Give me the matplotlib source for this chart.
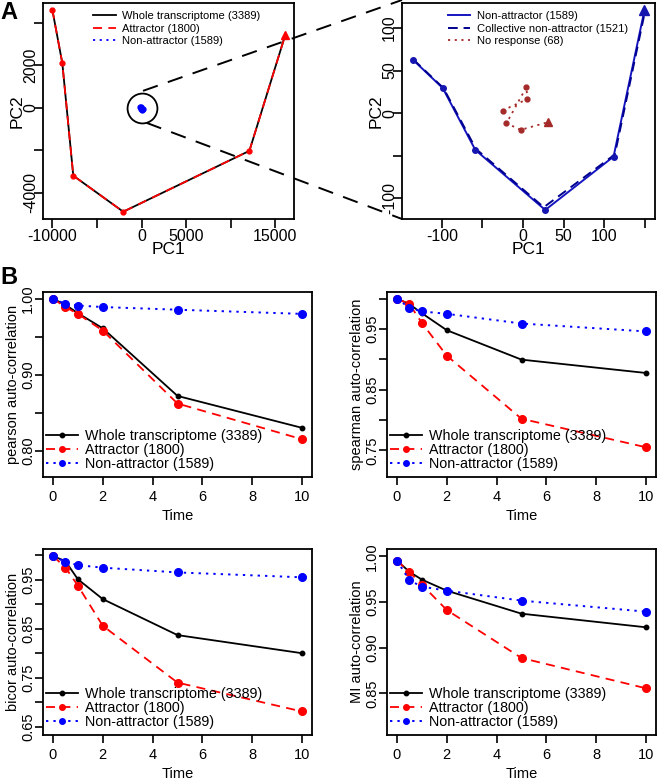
import numpy as np
import matplotlib
matplotlib.use("Agg")
import matplotlib.pyplot as plt
from matplotlib.lines import Line2D

plt.rcParams['font.family'] = ['Liberation Sans', 'DejaVu Sans']
plt.rcParams['axes.unicode_minus'] = False

# ---------------- Panel A data ----------------
whole_pc1 = [-10000, -8880, -7650, -2050, 12090, 16120]
whole_pc2 = [4630, 2110, -3200, -4900, -2030, 3450]
attr_pc1 = [-10000, -8880, -7650, -2050, 12090, 16120]
attr_pc2 = [4630, 2110, -3200, -4900, -2030, 3450]

nonattr_pc1 = [-135.5, -98.8, -58.8, 27.3, 111.4, 149.4]
nonattr_pc2 = [62.7, 29.4, -43.1, -113.7, -51.0, 120.8]
collective_pc1 = [-135.0, -98.0, -58.0, 25.5, 113.0, 150.5]
collective_pc2 = [63.0, 29.5, -42.0, -110.5, -48.5, 121.5]
noresp_pc1 = [-25.3, 5.3, 4.1, -20.4, -2.9, 30.6]
noresp_pc2 = [3.1, 16.5, 30.6, -11.8, -19.6, -10.6]

# ---------------- Panel B data ----------------
time = [0, 0.5, 1, 2, 5, 10]
pearson_whole = [1.000, 0.992, 0.981, 0.961, 0.872, 0.830]
pearson_attr = [1.000, 0.989, 0.980, 0.958, 0.862, 0.815]
pearson_non = [1.000, 0.993, 0.991, 0.989, 0.9855, 0.980]

spearman_whole = [1.000, 0.991, 0.976, 0.948, 0.8995, 0.8775]
spearman_attr = [1.000, 0.991, 0.960, 0.906, 0.802, 0.755]
spearman_non = [1.000, 0.985, 0.979, 0.975, 0.959, 0.946]

bicor_whole = [0.9985, 0.988, 0.951, 0.9105, 0.837, 0.800]
bicor_attr = [0.9985, 0.975, 0.938, 0.856, 0.740, 0.681]
bicor_non = [0.999, 0.986, 0.980, 0.9746, 0.965, 0.955]

mi_whole = [0.9953, 0.983, 0.9745, 0.9624, 0.9372, 0.9223]
mi_attr = [0.9953, 0.9828, 0.969, 0.9412, 0.8887, 0.8555]
mi_non = [0.9953, 0.9737, 0.9668, 0.9624, 0.9515, 0.9394]

leg_labels = ["Whole transcriptome (3389)", "Attractor (1800)", "Non-attractor (1589)"]
top_left_labels = ["Whole transcriptome (3389)", "Attractor (1800)", "Non-attractor (1589)"]
top_right_labels = ["Non-attractor (1589)", "Collective non-attractor (1521)", "No response (68)"]

RED = '#FF0000'
BLUE = '#0000FF'
BROWN = '#A52A2A'
W, H = 657, 782
fig = plt.figure(figsize=(W / 100, H / 100), dpi=100)


def rect(x0, y0, x1, y1):
    return [x0 / W, 1 - y1 / H, (x1 - x0) / W, (y1 - y0) / H]


def style(ax, xt, xl, yt, yl, fs, xpad, ypad, tl):
    for s in ax.spines.values():
        s.set_linewidth(1.3)
    ax.set_xticks(xt)
    ax.set_xticklabels(xl, fontsize=fs)
    ax.set_yticks(yt)
    ax.set_yticklabels(yl, fontsize=fs, rotation=90, va='center')
    ax.tick_params(axis='x', length=tl, width=1.2, pad=xpad)
    ax.tick_params(axis='y', length=tl, width=1.2, pad=ypad)


# ---------------- A left ----------------
ax1 = fig.add_axes(rect(43, 3, 294, 219))
ax1.plot(whole_pc1, whole_pc2, color='black', lw=1.3, label=top_left_labels[0])
ax1.plot(attr_pc1[:-1], attr_pc2[:-1], 'o', color=RED, ms=3.5)
ax1.plot(attr_pc1[-1:], attr_pc2[-1:], '^', color=RED, ms=6)
ax1.plot(attr_pc1, attr_pc2, color=RED, lw=1.3, dashes=(5, 3.5), label=top_left_labels[1])
ax1.plot(nonattr_pc1, nonattr_pc2, color=BLUE, lw=1.3, dashes=(1.2, 2.5), label=top_left_labels[2])
ax1.plot(nonattr_pc1[:-1], nonattr_pc2[:-1], 'o', color=BLUE, ms=3.5)
ax1.plot([0], [0], 'o', ms=21.5, mfc='none', mec='black', mew=1.3)
ax1.set_xlim(-11045, 17090)
ax1.set_ylim(-5244, 4945)
style(ax1, [-10000, -5000, 0, 5000, 10000, 15000], ['-10000', '', '0', '5000', '', '15000'],
      [-4000, -2000, 0, 2000, 4000], ['-4000', '', '0', '2000', ''], 11.5, 0.5, -3, 6.5)
ax1.set_xlabel('PC1', fontsize=12.5, labelpad=-1)
ax1.set_ylabel('PC2', fontsize=12.5, labelpad=-1)
h = [Line2D([], [], color='black', lw=1.3),
     Line2D([], [], color=RED, lw=1.3, dashes=(5, 3.5)),
     Line2D([], [], color=BLUE, lw=1.3, dashes=(1.2, 2.5))]
ax1.legend(h, top_left_labels, loc='upper left', bbox_to_anchor=(0.17, 1.0), frameon=False,
           fontsize=8, handlelength=2.0, handletextpad=0.6, labelspacing=0.25, borderpad=0.2)

# ---------------- A right ----------------
ax2 = fig.add_axes(rect(402, 3, 655, 219))
ax2.plot(nonattr_pc1, nonattr_pc2, color='#1515C0', lw=1.4)
ax2.plot(collective_pc1, collective_pc2, color='#000090', lw=1.4, dashes=(5, 3))
ax2.plot(nonattr_pc1[:-1], nonattr_pc2[:-1], 'o', color='#1515B0', ms=4)
ax2.plot(nonattr_pc1[-1:], nonattr_pc2[-1:], '^', color='#1515B0', ms=6.5)
ax2.plot(noresp_pc1, noresp_pc2, color=BROWN, lw=1.3, dashes=(1.2, 2.5))
ax2.plot(noresp_pc1[:-1], noresp_pc2[:-1], 'o', color=BROWN, ms=3.5)
ax2.plot(noresp_pc1[-1:], noresp_pc2[-1:], '^', color=BROWN, ms=6)
ax2.set_xlim(-149, 162.4)
ax2.set_ylim(-124.3, 129.4)
style(ax2, [-100, -50, 0, 50, 100, 150], ['-100', '', '0', '50', '100', ''],
      [-100, -50, 0, 50, 100], ['-100', '', '0', '50', '100'], 11.5, 0.5, -3, 6.5)
ax2.set_xlabel('PC1', fontsize=12.5, labelpad=-1)
ax2.set_ylabel('PC2', fontsize=12.5, labelpad=-1)
h2 = [Line2D([], [], color='#1515C0', lw=1.4),
      Line2D([], [], color='#000090', lw=1.4, dashes=(5, 3)),
      Line2D([], [], color=BROWN, lw=1.3, dashes=(1.2, 2.5))]
ax2.legend(h2, top_right_labels, loc='upper left', bbox_to_anchor=(0.15, 1.0), frameon=False,
           fontsize=8, handlelength=2.0, handletextpad=0.6, labelspacing=0.25, borderpad=0.2)

# connector lines (figure pixel coordinates)
fig.canvas.draw()
c = ax1.transData.transform((0, 0))
inv = fig.transFigure.inverted()
p_top = inv.transform((c[0] + 1.5, c[1] + 17))
p_bot = inv.transform((c[0] + 5, c[1] - 15))
corner_top = ax2.transAxes.transform((0, 1))
corner_bot = ax2.transAxes.transform((0, 0))
q_top = inv.transform((corner_top[0], corner_top[1] + 3))
q_bot = inv.transform(corner_bot)
for p, q in [(p_top, q_top), (p_bot, q_bot)]:
    fig.add_artist(Line2D([p[0], q[0]], [p[1], q[1]], transform=fig.transFigure,
                          color='black', lw=1.4, dashes=(8, 5.5)))

# ---------------- B panels ----------------
def bpanel(r, whole, attr, non, ylim, yt, yl, ylabel, legpos):
    ax = fig.add_axes(rect(*r))
    ax.plot(time, whole, color='black', lw=1.3, marker='o', ms=3.2)
    ax.plot(time, attr, color=RED, lw=1.3, dashes=(5, 3.5), marker='o', ms=5.5)
    ax.plot(time, non, color=BLUE, lw=1.4, dashes=(1.2, 2.6), marker='o', ms=5.5)
    ax.set_xlim(-0.4, 10.4)
    ax.set_ylim(*ylim)
    style(ax, [0, 2, 4, 6, 8, 10], ['0', '2', '4', '6', '8', '10'], yt, yl, 10.5, 4, 0, 5.5)
    ax.set_xlabel('Time', fontsize=10.5, labelpad=3.5)
    ax.set_ylabel(ylabel, fontsize=10.5, labelpad=1)
    hh = [Line2D([], [], color='black', lw=1.3, marker='o', ms=3.2),
          Line2D([], [], color=RED, lw=1.3, dashes=(5, 3.5), marker='o', ms=4),
          Line2D([], [], color=BLUE, lw=1.4, dashes=(1.2, 2.6), marker='o', ms=4)]
    ax.legend(hh, leg_labels, loc='lower left', bbox_to_anchor=legpos, frameon=False,
              fontsize=10.3, handlelength=2.2, handletextpad=0.5, labelspacing=0.0,
              borderpad=0.0, borderaxespad=0.0)
    return ax


bpanel((43, 292, 312, 477), pearson_whole, pearson_attr, pearson_non, (0.7653, 1.0088),
       [0.80, 0.85, 0.90, 0.95, 1.00], ['0.80', '', '0.90', '', '1.00'],
       'pearson auto-correlation', (0.013, 0.03))
bpanel((387, 292, 656, 477), spearman_whole, spearman_attr, spearman_non, (0.706, 1.011),
       [0.75, 0.80, 0.85, 0.90, 0.95, 1.00], ['0.75', '', '0.85', '', '0.95', ''],
       'spearman auto-correlation', (0.013, 0.03))
bpanel((43, 549, 312, 735), bicor_whole, bicor_attr, bicor_non, (0.633, 1.0128),
       [0.65, 0.70, 0.75, 0.80, 0.85, 0.90, 0.95, 1.00],
       ['0.65', '', '0.75', '', '0.85', '', '0.95', ''],
       'bicor auto-correlation', (0.013, 0.03))
bpanel((387, 549, 656, 735), mi_whole, mi_attr, mi_non, (0.8044, 1.008),
       [0.85, 0.90, 0.95, 1.00], ['0.85', '0.90', '0.95', '1.00'],
       'MI auto-correlation', (0.013, 0.03))

fig.text(0 / W, 1 - 1 / H, 'A', fontsize=17, fontweight='bold', va='top', ha='left')
fig.text(0 / W, 1 - 266 / H, 'B', fontsize=17, fontweight='bold', va='top', ha='left')

fig.savefig('out.png', dpi=100)
